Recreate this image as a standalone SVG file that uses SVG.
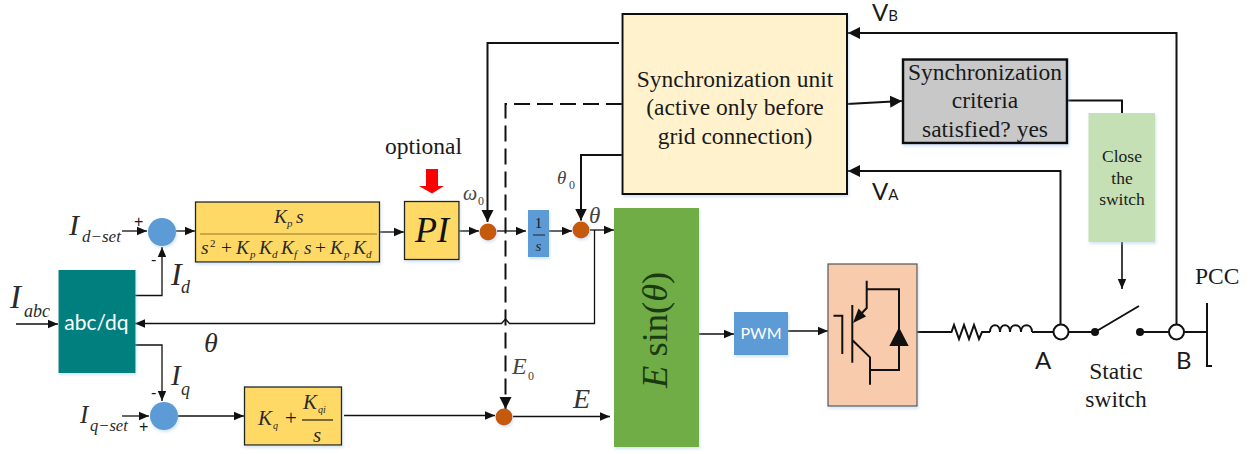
<svg xmlns="http://www.w3.org/2000/svg" width="1255" height="454" viewBox="0 0 1255 454">
<style>
.c{fill:none;stroke:#111;stroke-width:1.3}
.t{fill:none;stroke:#111;stroke-width:2}
.a{marker-end:url(#ar)}
.b{marker-end:url(#arb)}
text{font-family:"Liberation Serif",serif;fill:#1a1a1a}
.m{font-style:italic;fill:#2a2a2a}
.s{font-family:Lato,"Open Sans",sans-serif}
.w{font-family:Lato,"Open Sans",sans-serif;fill:#fff}
.n{font-size:23.5px;text-anchor:middle}
.box{filter:url(#sh)}
.p{font-family:"Liberation Sans",sans-serif;font-size:16px}
.k{font-size:19.5px}
.u{font-size:11px}
</style>
<defs>
<marker id="ar" markerUnits="userSpaceOnUse" markerWidth="11" markerHeight="10" refX="10" refY="5" orient="auto"><path d="M0 0.8L10 5L0 9.2z" fill="#111"/></marker>
<marker id="arb" markerUnits="userSpaceOnUse" markerWidth="13" markerHeight="13" refX="12" refY="6.500" orient="auto"><path d="M0 0.5L12 6.500L0 12.500z" fill="#111"/></marker>
<filter id="sh" x="-10%" y="-10%" width="125%" height="125%"><feDropShadow dx="1" dy="2" stdDeviation="1.5" flood-color="#9dc3e6" flood-opacity=".45"/></filter>
</defs>

<g id="connectors">
<path class="c a" d="M16 324H58"/>
<path class="c a" d="M122 231H147"/>
<path class="c a" d="M176 231H195"/>
<path class="c a" d="M135 295.500H162V247"/>
<path class="c a" d="M135 345H162V401"/>
<path class="c a" d="M122 416H149"/>
<path class="c a" d="M178 416H244"/>
<path class="c a" d="M344 415.500H495"/>
<path class="c a" d="M513 416.500H610"/>
<path class="c a" d="M379 232H404"/>
<path class="c a" d="M459 231H479"/>
<path class="c a" d="M497 231H526"/>
<path class="c a" d="M549 231H572"/>
<path class="c a" d="M590 230H614"/>
<path class="c a" d="M594.500 230V323.500H509.500L505.500 319L501.500 323.500H135"/>
<path class="c a" d="M699 334H734"/>
<path class="c a" d="M788 331H828"/>
<path class="t b" d="M619 43H487.500V222"/>
<path class="t b" d="M622 155H581V220.500"/>
<path class="t b" d="M622 104H505.500V409" stroke-dasharray="16 7"/>
<path class="t b" d="M847 104L902 101"/>
<path class="t" d="M1067 100.500H1122V113"/>
<path class="t b" d="M1176.500 325V33H848"/>
<path class="t b" d="M1060.500 325V171H848"/>
<path class="c a" d="M1122 242V289" style="stroke-width:1.600"/>
<path class="t" d="M917 332H951.500L954 325L959 339L964 325L969 339L974 325L979 339L982 332H990"/>
<path class="t" d="M990 332C990 323 1000 323 1000 332M1000 332C1000 323 1010 323 1010 332M1010 332C1010 323 1021 323 1021 332M1021 332C1021 323 1032 323 1032 332"/>
<path class="t" d="M1032 332H1053M1069 332H1095M1095 332L1139 306M1140 332H1169M1184 332H1207M1207 303V366H1212"/>
<circle cx="1095" cy="332" r="4" fill="#111"/>
<circle cx="1140" cy="332" r="4" fill="#111"/>
</g>

<g id="node-sync"><rect class="box" x="622.500" y="14" width="224.500" height="180" fill="#fff2cc" stroke="#111" stroke-width="2"/>
<text class="n" x="735" y="87">Synchronization unit</text><text class="n" x="735" y="115">(active only before</text><text class="n" x="735" y="144">grid connection)</text></g>

<g id="node-criteria"><rect class="box" x="903" y="59.500" width="164" height="83.500" fill="#c8c8c8" stroke="#111" stroke-width="2.500"/>
<text class="n" x="985" y="80">Synchronization</text><text class="n" x="985" y="108">criteria</text><text class="n" x="985" y="137">satisfied? yes</text></g>

<g id="node-close"><rect class="box" x="1088.500" y="113" width="66.500" height="129" fill="#c5e0b4"/>
<text x="1122" y="162" font-size="17.500" text-anchor="middle">Close</text><text x="1122" y="184" font-size="17.500" text-anchor="middle">the</text><text x="1122" y="205" font-size="17.500" text-anchor="middle">switch</text></g>

<g id="node-abcdq"><rect class="box" x="58.500" y="270" width="77" height="103" fill="#007f7f"/>
<text class="w" x="96.500" y="330" font-size="21" text-anchor="middle">abc/dq</text></g>

<g id="node-sum-d"><circle class="box" cx="162" cy="232" r="14" fill="#5b9bd5"/></g>
<g id="node-sum-q"><circle class="box" cx="164" cy="416" r="14" fill="#5b9bd5"/></g>

<g id="node-tf"><rect class="box" x="195.500" y="202" width="184" height="60" fill="#ffd966" stroke="#222" stroke-width="1.300"/>
<path d="M200 234H377" stroke="#b8973f" stroke-width="1.500"/>
<text class="m k" x="274" y="223">K</text><text class="m u" x="287" y="227">p</text><text class="m k" x="296" y="223">s</text>
<text class="m k" x="201" y="254">s</text><text class="u" x="210" y="247">2</text><text class="k" x="221" y="254">+</text><text class="m k" x="236" y="254">K</text><text class="m u" x="250" y="258">p</text><text class="m k" x="259" y="254">K</text><text class="m u" x="272" y="258">d</text><text class="m k" x="281" y="254">K</text><text class="m u" x="294" y="258">f</text><text class="m k" x="304" y="254">s</text><text class="k" x="315" y="254">+</text><text class="m k" x="330" y="254">K</text><text class="m u" x="344" y="258">p</text><text class="m k" x="353" y="254">K</text><text class="m u" x="366" y="258">d</text></g>

<g id="node-pi"><rect class="box" x="404.500" y="201.500" width="54.500" height="58" fill="#ffd966" stroke="#222" stroke-width="1.300"/>
<text class="m" x="415" y="242" font-size="36" style="fill:#111">PI</text></g>
<g id="node-arrow"><path d="M426 169H438V186H444L432 193.500L419 186H426z" fill="#f00"/></g>

<g id="node-kq"><rect class="box" x="244.500" y="387" width="97" height="58" fill="#ffd966" stroke="#222" stroke-width="1.300"/>
<path d="M302 420H333" stroke="#222" stroke-width="1.200"/>
<text class="m" x="258" y="425" font-size="21">K</text><text class="m" x="273" y="429" font-size="10">q</text><text x="285" y="425" font-size="21">+</text><text class="m" x="303" y="409" font-size="21">K</text><text class="m" x="318" y="413" font-size="10">qi</text><text class="m" x="313" y="442" font-size="21">s</text></g>

<g id="node-w0"><circle class="box" cx="488" cy="232" r="8.500" fill="#c55a11"/></g>
<g id="node-integrator"><rect class="box" x="528" y="210" width="21" height="47" fill="#5b9bd5"/>
<path d="M533 235H545" stroke="#222"/><text x="538.500" y="228" font-size="15" text-anchor="middle">1</text><text class="m" x="538.500" y="251" font-size="15" text-anchor="middle">s</text></g>
<g id="node-theta"><circle class="box" cx="581" cy="230" r="8.500" fill="#c55a11"/></g>
<g id="node-e"><circle class="box" cx="504" cy="417" r="8.500" fill="#c55a11"/></g>

<g id="node-esin"><rect class="box" x="614" y="208" width="85" height="239" fill="#70ad47"/>
<text transform="translate(667 388) rotate(-90)" font-size="36.500" style="fill:#1a3a10"><tspan font-style="italic">E</tspan> sin(<tspan font-style="italic">θ</tspan>)</text></g>

<g id="node-pwm"><rect class="box" x="734" y="312" width="54" height="43" fill="#5b9bd5"/>
<text class="w" x="761" y="339" font-size="16" text-anchor="middle">PWM</text></g>

<g id="node-converter"><rect class="box" x="828" y="264" width="89" height="142" fill="#f8cbad" stroke="#555" stroke-width="1.200"/>
<path class="t" d="M833.500 315.700H842.300V354M852.300 305V362.700M866.700 280.700V308L860 315M866.700 289.300H899V370H870M852.300 340L870 357.300V384.700M870 357.300V370"/>
<path d="M853 323L858.500 308.500L866 316.500z" fill="#111"/>
<path d="M899 327.300L889.300 346H908.700z" fill="#111"/></g>

<g id="node-a"><circle cx="1061" cy="332" r="7.500" fill="#fff" stroke="#111" stroke-width="2"/></g>
<g id="node-b"><circle cx="1176.500" cy="332" r="7.500" fill="#fff" stroke="#111" stroke-width="2"/></g>

<g id="labels">
<text x="385" y="154" font-size="23.500">optional</text>
<text class="m" x="10" y="308" font-size="33">I</text><text class="m" x="24" y="317" font-size="18">abc</text>
<text class="m" x="69" y="235" font-size="30">I</text><text class="m" x="82" y="242" font-size="17">d−set</text>
<text class="m" x="171" y="285" font-size="32">I</text><text class="m" x="181" y="293" font-size="18">d</text>
<text class="m" x="204" y="352" font-size="28">θ</text>
<text class="m" x="171" y="385" font-size="29">I</text><text class="m" x="181" y="395" font-size="18">q</text>
<text class="m" x="80" y="423" font-size="25">I</text><text class="m" x="90" y="431" font-size="16.500">q−set</text>
<text class="p" x="134" y="227">+</text>
<text class="p" x="151" y="264.500">-</text>
<text class="p" x="151" y="397.500">-</text>
<text class="p" x="139" y="432">+</text>
<text class="m" x="463" y="200" font-size="20" style="fill:#444">ω</text><text x="478" y="205" font-size="12" fill="#444" style="fill:#444">0</text>
<text class="m" x="557" y="184" font-size="19" style="fill:#444">θ</text><text x="569" y="189" font-size="12" style="fill:#444">0</text>
<text class="m" x="589" y="223" font-size="23" style="fill:#444">θ</text>
<text class="m" x="512" y="374" font-size="24" style="fill:#444">E</text><text x="528" y="380" font-size="12" style="fill:#444">0</text>
<text class="m" x="573" y="408" font-size="28" style="fill:#333">E</text>
<text class="s" x="872" y="21" font-size="24">V<tspan font-size="15">B</tspan></text>
<text class="s" x="872" y="200" font-size="24">V<tspan font-size="15">A</tspan></text>
<text class="s" x="1035" y="369" font-size="24">A</text>
<text class="s" x="1176" y="369" font-size="24">B</text>
<text class="n" x="1116" y="379">Static</text><text class="n" x="1116" y="407">switch</text>
<text x="1195" y="284" font-size="23.500">PCC</text>
</g>
</svg>
